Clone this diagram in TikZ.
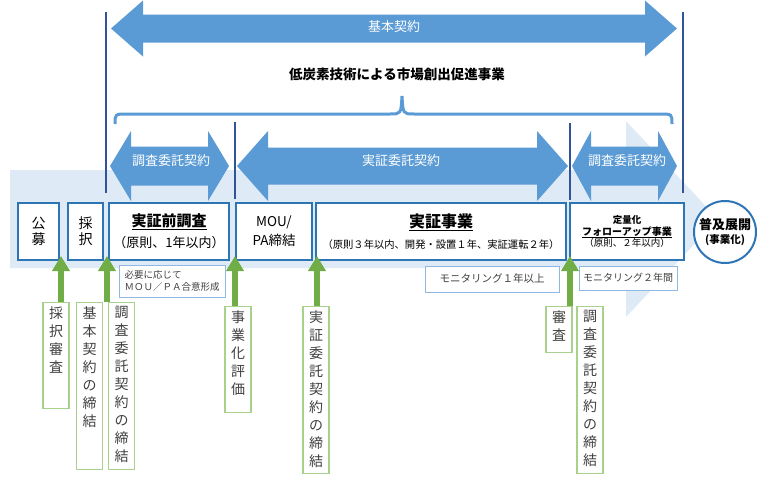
\documentclass[tikz,border=0pt]{standalone}
\usepackage{fontspec}
\setmainfont{Noto Sans CJK JP}
\usetikzlibrary{arrows.meta}

\definecolor{bandblue}{HTML}{DEEBF7}
\definecolor{arrblue}{HTML}{5B9BD5}
\definecolor{linedark}{HTML}{2F5597}
\definecolor{boxblue}{HTML}{2E75B6}
\definecolor{noteblue}{HTML}{8FB9E3}
\definecolor{grn}{HTML}{70AD47}
\definecolor{grnlt}{HTML}{A9D18E}
\definecolor{textgray}{HTML}{404040}

% double arrow: x1, x2, y centre, body half, head half, head length
\newcommand{\dblarr}[6]{%
  \fill[arrblue] (#1,#3) -- (#1+#6,#3-#5) -- (#1+#6,#3-#4) -- (#2-#6,#3-#4)
    -- (#2-#6,#3-#5) -- (#2,#3) -- (#2-#6,#3+#5) -- (#2-#6,#3+#4)
    -- (#1+#6,#3+#4) -- (#1+#6,#3+#5) -- cycle;}
% vertical text column
\newcommand{\tate}[2]{\parbox[c][#1][t]{20pt}{\centering #2}}

\begin{document}
\begin{tikzpicture}[x=1pt,y=-1pt,
  box/.style={draw=boxblue,line width=2pt,fill=white,inner sep=0pt,align=center},
  note/.style={draw=noteblue,line width=0.9pt,fill=white,inner sep=3pt,text=textgray},
  tlab/.style={draw=grnlt,line width=1.4pt,fill=white,anchor=north,inner xsep=0pt,
    inner ysep=4pt,minimum width=26pt,font=\fontsize{14}{18}\selectfont,text=textgray},
  uparr/.style={grn,line width=6pt,-{Triangle[width=17pt,length=15pt]}},
  vline/.style={linedark,line width=2.5pt},
  wtxt/.style={text=white,font=\fontsize{13}{15}\selectfont}]
	\useasboundingbox (0,0) rectangle (758,482);
	
	% light background arrow
	\fill[bandblue] (10,170) -- (626,170) -- (626,121) -- (718,219) -- (626,317)
	  -- (626,268) -- (10,268) -- cycle;
	
	% basic contract
	\dblarr{111}{677}{28.5}{14}{28}{32}
	\node[wtxt] (kihon) at (394,27) {基本契約};
	
	\node[font=\bfseries\fontsize{13.5}{16}\selectfont] (title) at (397,74) {低炭素技術による市場創出促進事業};
	
	% brace
	\draw[arrblue,line width=3pt] (115,124) .. controls (115,114) .. (127,114) -- (390,114)
	  .. controls (401,114) .. (402,96) .. controls (403,114) .. (414,114) -- (660,114)
	  .. controls (672,114) .. (672,124);
	
	% contract arrows
	\dblarr{110}{229}{166}{19.5}{35}{21}
	\node[wtxt] (a1) at (171,161) {調査委託契約};
	\dblarr{237}{568}{166}{18.5}{35}{31}
	\node[wtxt] (a2) at (401,161) {実証委託契約};
	\dblarr{572}{677}{166}{19.5}{35}{19}
	\node[wtxt] (a3) at (627,161) {調査委託契約};
	
	\draw[vline] (106,12) -- (106,193);
	\draw[vline] (235,122) -- (235,199);
	\draw[vline] (570,123) -- (570,200);
	\draw[vline] (683,12) -- (683,193);
	
	% main row
	\node[box,minimum width=41pt,minimum height=57pt,font=\fontsize{14}{16}\selectfont] (kobo) at (38.5,231.5) {公\\募};
	\node[box,minimum width=35pt,minimum height=57pt,font=\fontsize{14}{16}\selectfont] (saitaku) at (85.5,231.5) {採\\択};
	\node[box,minimum width=120pt,minimum height=57pt,font=\fontsize{15}{21}\selectfont] (chosa) at (169,231.5)
	  {\textbf{\underline{実証前調査}}\\{\fontsize{13}{15}\selectfont （原則、1年以内）}};
	\node[box,minimum width=76pt,minimum height=57pt,font=\fontsize{13.5}{19}\selectfont] (mou) at (274,231.5) {MOU/\\PA締結};
	\node[box,minimum width=250pt,minimum height=57pt,font=\fontsize{16}{21}\selectfont] (jissho) at (441,231.5)
	  {\textbf{\underline{実証事業}}\\{\fontsize{10.3}{12}\selectfont （原則３年以内、開発・設置１年、実証運転２年）}};
	\node[box,minimum width=114pt,minimum height=57pt,font=\fontsize{9.5}{11.5}\selectfont] (fu) at (627,231.5)
	  {\textbf{定量化}\\{\fontsize{10}{11.5}\selectfont\textbf{\underline{フォローアップ事業}}}\\（原則、２年以内）};
	\node[circle,draw=boxblue,line width=2pt,fill=white,minimum size=62pt,inner sep=0pt,align=center,
	  font=\bfseries\fontsize{13}{14}\selectfont] (fukyu) at (725,232)
	  {普及展開\\{\fontsize{10.5}{12}\selectfont (事業化)}};
	
	% notes
	\node[note,minimum width=106pt,minimum height=32pt,align=left,font=\fontsize{9.5}{12}\selectfont] (hitsuyo) at (172,281)
	  {必要に応じて\\ＭＯＵ／ＰＡ合意形成};
	\node[note,minimum width=134pt,minimum height=26pt,font=\fontsize{10.5}{12}\selectfont] (mon1) at (492,279) {モニタリング１年以上};
	\node[note,minimum width=98pt,minimum height=24pt,font=\fontsize{10}{12}\selectfont] (mon2) at (628,278) {モニタリング２年間};
	
	% steps
	\node[tlab] (l1) at (56,302) {\tate{98pt}{採\\択\\審\\査}};
	\node[tlab] (l2) at (89.5,302) {\tate{159pt}{基\\本\\契\\約\\の\\締\\結}};
	\node[tlab] (l3) at (121.5,302) {\tate{159pt}{調\\査\\委\\託\\契\\約\\の\\締\\結}};
	\node[tlab] (l4) at (238,306) {\tate{98pt}{事\\業\\化\\評\\価}};
	\node[tlab] (l5) at (316,306) {\tate{159pt}{実\\証\\委\\託\\契\\約\\の\\締\\結}};
	\node[tlab] (l6) at (559,306) {\tate{38pt}{審\\査}};
	\node[tlab] (l7) at (590,306) {\tate{159pt}{調\\査\\委\\託\\契\\約\\の\\締\\結}};
	
	\coordinate (t1) at (61,256);
	\coordinate (t2) at (107,256);
	\coordinate (t3) at (235,256);
	\coordinate (t4) at (317,256);
	\coordinate (t5) at (570,256);
	\draw[uparr] (l1.north -| t1) -- (t1);
	\draw[uparr] (l2.north -| t2) -- (t2);
	\draw[uparr] (l4.north -| t3) -- (t3);
	\draw[uparr] (l5.north -| t4) -- (t4);
	\draw[uparr] (l6.north -| t5) -- (t5);
	
\end{tikzpicture}
\end{document}
